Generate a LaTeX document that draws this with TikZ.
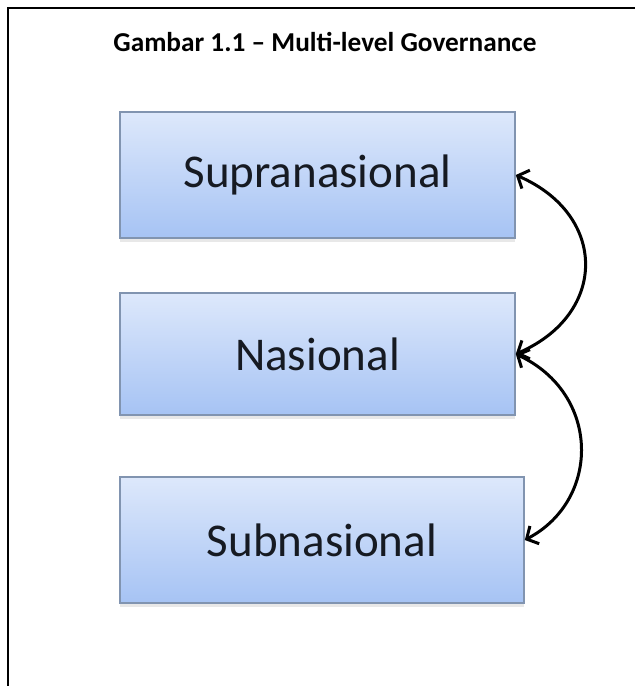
\documentclass[tikz,border=0pt]{standalone}
\usepackage{fontspec}
\setmainfont{Carlito}
\usepackage{tikz}
\usetikzlibrary{arrows.meta, shadows}
\definecolor{lvltop}{HTML}{DDE8FB}
\definecolor{lvlbot}{HTML}{A6C3F4}
\definecolor{lvledge}{HTML}{8194B0}
\definecolor{lvltext}{HTML}{161A22}

\begin{document}
\begin{tikzpicture}[x=1pt, y=-1pt,
    level/.style={draw=lvledge, line width=1.6pt, top color=lvltop, bottom color=lvlbot,
      text=lvltext, font=\fontsize{47}{56}\selectfont, inner sep=0pt,
      drop shadow={opacity=0.18, shadow xshift=0pt, shadow yshift=-4pt}},
    link/.style={line width=3pt, {Straight Barb[length=9pt, width=20pt]}-{Straight Barb[length=9pt, width=20pt]}}]
  \useasboundingbox (0,0) rectangle (635,686);
  % open frame: left side and top
  \draw[line width=2.2pt] (8,686) -- (8,8) -- (635,8);
  \node[font=\bfseries\fontsize{27.3}{32}\selectfont, anchor=base] (title) at (325,51)
    {Gambar 1.1 -- Multi-level Governance};
  % the three levels
  \node[level, minimum width=395pt, minimum height=126pt] (supra) at (317.5,175) {Supranasional};
  \node[level, minimum width=395pt, minimum height=122pt] (nas) at (317.5,354) {Nasional};
  \node[level, minimum width=404pt, minimum height=126pt] (sub) at (322,540) {Subnasional};
  % two-way links on the right
  \draw[link] (supra.east) .. controls +(92,40) and +(92,-40) .. (nas.east);
  \draw[link] (nas.east) .. controls +(85,40) and +(76,-40) .. (sub.east);
\end{tikzpicture}
\end{document}
